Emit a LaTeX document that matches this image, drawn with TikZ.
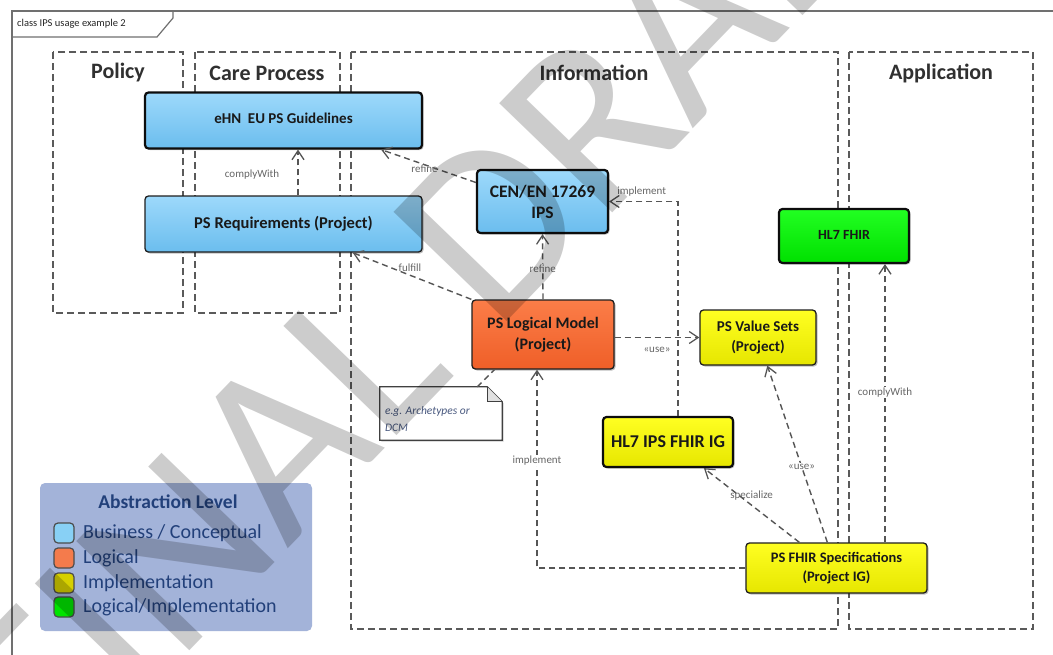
\documentclass[tikz,border=0pt]{standalone}
\usepackage{fontspec}
\setmainfont{Carlito}
\usetikzlibrary{arrows.meta,shadows,calc}
\definecolor{framegray}{HTML}{707070}
\definecolor{lanegray}{HTML}{5A5A5A}
\definecolor{titlegray}{HTML}{303030}
\definecolor{blueT}{HTML}{9DD9FB}
\definecolor{blueB}{HTML}{6BBDEE}
\definecolor{orangeT}{HTML}{FB7D48}
\definecolor{orangeB}{HTML}{EF5F28}
\definecolor{yellowT}{HTML}{FFFF22}
\definecolor{yellowB}{HTML}{E6E600}
\definecolor{greenT}{HTML}{22FF22}
\definecolor{greenB}{HTML}{00E000}
\definecolor{legendfill}{HTML}{A3B3D9}
\definecolor{legendtext}{HTML}{22407A}
\definecolor{lblgray}{HTML}{666666}
\definecolor{conngray}{HTML}{555555}
\definecolor{swblue}{HTML}{88D0F5}
\definecolor{sworange}{HTML}{F47B4C}
\definecolor{swyellow}{HTML}{D6D000}
\definecolor{swgreen}{HTML}{00E400}
\definecolor{notetext}{HTML}{4A5A80}
\begin{document}
\begin{tikzpicture}[x=1pt,y=-1pt,
  lane/.style={draw=lanegray, line width=1.6pt, dash pattern=on 7pt off 4pt},
  lanetitle/.style={font=\fontsize{22}{26}\selectfont\bfseries, text=titlegray},
  box/.style={rounded corners=3.5pt, draw=black!88, line width=1.3pt, inner sep=0pt, align=center,
    text=black!90, drop shadow={shadow xshift=1.5pt, shadow yshift=-1.5pt, opacity=0.25, fill=black}},
  heavy/.style={line width=2.2pt, draw=black!95},
  bluebox/.style={box, top color=blueT, bottom color=blueB},
  orangebox/.style={box, top color=orangeT, bottom color=orangeB},
  yellowbox/.style={box, top color=yellowT, bottom color=yellowB},
  greenbox/.style={box, top color=greenT, bottom color=greenB},
  conn/.style={draw=conngray, line width=1.4pt, dash pattern=on 6pt off 4pt,
    -{Straight Barb[length=9pt,width=12pt,line width=1.3pt]}},
  plainconn/.style={draw=conngray, line width=1.4pt, dash pattern=on 6pt off 4pt},
  lbl/.style={font=\fontsize{11}{12}\selectfont, text=lblgray, inner sep=0.8pt},
  swatch/.style={draw=black!70, line width=1.2pt, rounded corners=4pt, minimum width=20pt, minimum height=20pt, inner sep=0pt},
  legtext/.style={anchor=west, font=\fontsize{20}{22}\selectfont, text=legendtext, inner sep=0pt}
]
\useasboundingbox (0,0) rectangle (1053,654);
\clip (0,0) rectangle (1053,654);
\fill[white] (0,0) rectangle (1053,654);

% frame
\draw[framegray, line width=2pt] (12,670) -- (12,11) -- (1070,11);
\draw[framegray, line width=1.2pt] (12,37) -- (157,37) -- (173,18) -- (173,11);
\node[anchor=west, font=\fontsize{10.5}{12}\selectfont, text=black!85, inner sep=0pt] (tab) at (17,24) {class IPS usage example 2};

% lanes
\draw[lane] (53,52) rectangle (183,313);
\draw[lane] (195,52) rectangle (340,313);
\draw[lane] (351,52) rectangle (838,629);
\draw[lane] (849,52) rectangle (1033,629);
\node[lanetitle] (tpol) at (118,73) {Policy};
\node[lanetitle] (tcare) at (267,73) {Care Process};
\node[lanetitle] (tinfo) at (594,73) {Information};
\node[lanetitle] (tapp) at (941,73) {Application};

% nodes
\node[bluebox, heavy, minimum width=277pt, minimum height=56pt, font=\fontsize{15}{18}\selectfont\bfseries] (ehn) at (283.5,120.5) {\raisebox{5pt}{eHN\ \ EU PS Guidelines}};
\node[bluebox, minimum width=277pt, minimum height=56pt, font=\fontsize{16.5}{19}\selectfont\bfseries] (req) at (283.5,224) {PS Requirements (Project)};
\node[bluebox, heavy, minimum width=131pt, minimum height=63pt, font=\fontsize{17.5}{21}\selectfont\bfseries] (cen) at (542.5,201.5) {CEN/EN 17269\\IPS};
\node[orangebox, minimum width=142pt, minimum height=69pt, font=\fontsize{16}{21}\selectfont\bfseries] (pslm) at (543,334.5) {PS Logical Model\\(Project)};
\node[yellowbox, minimum width=116pt, minimum height=55pt, font=\fontsize{15}{20}\selectfont\bfseries] (vs) at (758,337.5) {PS Value Sets\\(Project)};
\node[greenbox, heavy, minimum width=130pt, minimum height=54pt, font=\fontsize{14}{16}\selectfont\bfseries] (fhir) at (844,236) {\raisebox{3pt}{HL7 FHIR}};
\node[yellowbox, heavy, minimum width=130pt, minimum height=50pt, font=\fontsize{18}{20}\selectfont\bfseries] (ips) at (668,442) {HL7 IPS FHIR IG};
\node[yellowbox, minimum width=181pt, minimum height=50pt, font=\fontsize{14.5}{19}\selectfont\bfseries] (spec) at (836.5,568) {PS FHIR Specifications\\(Project IG)};

% note
\node[minimum width=122pt, minimum height=53pt, inner sep=0pt] (note) at (441,413.5) {};
\fill[black, opacity=0.2] ($(note.north west)+(1.5,1.5)$) -- ($(note.north east)+(-13.5,1.5)$) -- ($(note.north east)+(1.5,16.5)$) -- ($(note.south east)+(1.5,1.5)$) -- ($(note.south west)+(1.5,1.5)$) -- cycle;
\draw[fill=white, draw=black!75, line width=1.3pt] (note.north west) -- ($(note.north east)+(-15,0)$) -- ($(note.north east)+(0,15)$) -- (note.south east) -- (note.south west) -- cycle;
\draw[fill=black!12, draw=black!75, line width=1.1pt] ($(note.north east)+(-15,0)$) -- ($(note.north east)+(-15,15)$) -- ($(note.north east)+(0,15)$);
\node[anchor=north west, align=left, font=\fontsize{11.5}{17}\selectfont\itshape, text=notetext, inner sep=0pt] (notetxt) at ($(note.north west)+(5,20)$) {e.g. Archetypes or\\DCM};

% connectors
\draw[conn] ($(req.north)+(14.5,0)$) -- node[lbl, pos=0.45, xshift=-46pt] {complyWith} ($(ehn.south)+(14.5,0)$);
\draw[conn] ($(cen.west)+(0,-19)$) -- node[lbl, pos=0.5, xshift=-4pt, yshift=-3pt] {refine} ($(ehn.south east)+(-42,0)$);
\draw[conn] (pslm.north west) -- node[lbl, pos=0.5, xshift=-2pt, yshift=8pt] {fulfill} ($(req.south east)+(-70,0)$);
\draw[conn] (pslm.north) -- node[lbl, fill=white, pos=0.47] {refine} (cen.south);
\draw[conn] ($(ips.north)+(10,0)$) |- node[lbl, pos=0.8, xshift=5pt, yshift=10pt] {implement} (cen.east);
\draw[conn] ($(pslm.east)+(0,3)$) -- node[lbl, pos=0.5, yshift=-12pt] {«use»} (vs.west);
\draw[plainconn] ($(note.north east)+(-25,0)$) -- ($(pslm.south west)+(23,0)$);
\draw[conn] (spec.west) -| node[lbl, fill=white, pos=0.77] {implement} ($(pslm.south)+(-6,0)$);
\draw[conn] ($(spec.north west)+(54,0)$) -- node[lbl, pos=0.5, yshift=10pt] {specialize} ($(ips.south west)+(102,0)$);
\draw[conn] ($(spec.north west)+(82,0)$) -- node[lbl, pos=0.43, fill=white] {«use»} ($(vs.south west)+(68,0)$);
\coordinate (cfh) at ($(fhir.south)+(41,0)$);
\draw[conn] (cfh |- spec.north) -- node[lbl, fill=white, pos=0.54] {complyWith} (cfh);

% legend
\node[fill=legendfill, rounded corners=5pt, minimum width=272pt, minimum height=148pt, inner sep=0pt] (legend) at (176,557) {};
\node[font=\fontsize{19.5}{22}\selectfont\bfseries, text=legendtext, inner sep=0pt] (legtitle) at (168,502) {Abstraction Level};
\node[swatch, fill=swblue] (sw1) at (64,533) {};
\node[swatch, fill=sworange] (sw2) at (64,558) {};
\node[swatch, fill=swyellow] (sw3) at (64,583) {};
\node[swatch, fill=swgreen] (sw4) at (64,607) {};
\node[legtext] (lt1) at (83,533) {Business / Conceptual};
\node[legtext] (lt2) at (83,558) {Logical};
\node[legtext] (lt3) at (83,583) {Implementation};
\node[legtext] (lt4) at (83,607) {Logical/Implementation};

% watermark
\node[rotate=46, font=\fontsize{245}{245}\selectfont, text=black, text opacity=0.2, inner sep=0pt] (wm) at (448,270) {FINAL DRAFT};
\end{tikzpicture}
\end{document}
